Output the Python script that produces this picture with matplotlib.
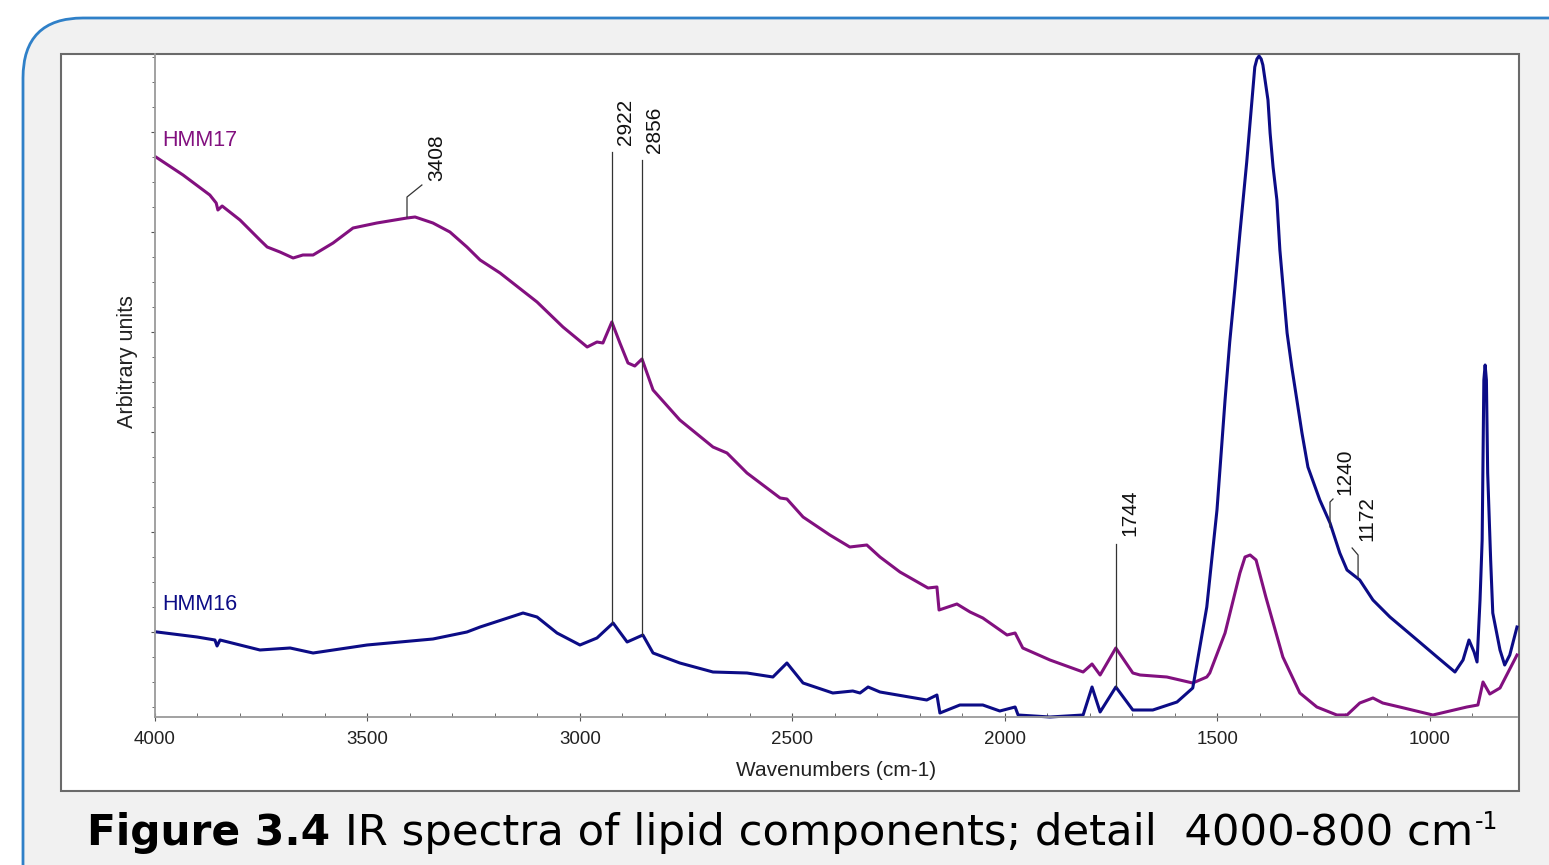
import numpy as np
import matplotlib
matplotlib.use("Agg")
import matplotlib.pyplot as plt
from matplotlib.patches import FancyBboxPatch, Rectangle

# wavenumber (cm-1) / arbitrary intensity
hmm17_wn = [3998, 3934, 3871, 3856, 3852, 3842, 3800, 3753, 3736, 3706, 3675, 3652, 3628,
            3581, 3534, 3478, 3407, 3388, 3346, 3306, 3266, 3235, 3188, 3158, 3101, 3040,
            2983, 2960, 2946, 2925, 2906, 2887, 2871, 2854, 2828, 2765, 2687, 2654, 2607,
            2529, 2513, 2475, 2412, 2365, 2325, 2294, 2247, 2181, 2160, 2155, 2113, 2082,
            2052, 1995, 1976, 1958, 1894, 1816, 1795, 1776, 1739, 1699, 1682, 1619, 1558,
            1525, 1518, 1482, 1447, 1435, 1423, 1409, 1386, 1346, 1306, 1266, 1219, 1195,
            1165, 1134, 1111, 1071, 993, 913, 887, 875, 859, 835, 795]
hmm17_int = [5.60, 5.42, 5.22, 5.14, 5.07, 5.11, 4.97, 4.77, 4.70, 4.65, 4.59, 4.62, 4.62,
             4.74, 4.89, 4.94, 4.99, 5.00, 4.94, 4.85, 4.70, 4.57, 4.44, 4.34, 4.15, 3.90,
             3.70, 3.75, 3.74, 3.95, 3.74, 3.54, 3.51, 3.58, 3.27, 2.97, 2.70, 2.64, 2.44,
             2.19, 2.18, 2.00, 1.82, 1.70, 1.72, 1.60, 1.45, 1.29, 1.30, 1.07, 1.13, 1.05,
             0.99, 0.82, 0.84, 0.69, 0.57, 0.45, 0.53, 0.42, 0.69, 0.44, 0.42, 0.40, 0.34,
             0.40, 0.44, 0.84, 1.44, 1.60, 1.62, 1.57, 1.20, 0.60, 0.24, 0.10, 0.02, 0.02,
             0.14, 0.19, 0.14, 0.10, 0.02, 0.10, 0.12, 0.35, 0.23, 0.29, 0.62]

hmm16_wn = [3995, 3901, 3859, 3854, 3847, 3753, 3682, 3628, 3501, 3346, 3266, 3235, 3134,
            3101, 3054, 3000, 2960, 2922, 2889, 2852, 2828, 2765, 2687, 2607, 2546, 2513,
            2475, 2405, 2358, 2341, 2322, 2294, 2184, 2160, 2153, 2106, 2052, 2012, 1976,
            1969, 1894, 1816, 1795, 1776, 1739, 1699, 1652, 1595, 1558, 1525, 1501, 1482,
            1471, 1459, 1447, 1431, 1423, 1412, 1407, 1402, 1397, 1393, 1381, 1376, 1369,
            1360, 1353, 1336, 1325, 1313, 1301, 1287, 1259, 1235, 1212, 1195, 1165, 1134,
            1094, 1030, 983, 941, 922, 908, 896, 889, 882, 877, 873, 870, 867, 864, 857,
            852, 835, 824, 812, 795]
hmm16_int = [0.85, 0.80, 0.77, 0.71, 0.77, 0.67, 0.69, 0.64, 0.72, 0.78, 0.85, 0.90, 1.04,
             1.00, 0.84, 0.72, 0.79, 0.94, 0.75, 0.82, 0.64, 0.54, 0.45, 0.44, 0.40, 0.54,
             0.34, 0.24, 0.26, 0.24, 0.30, 0.25, 0.17, 0.22, 0.04, 0.12, 0.12, 0.06, 0.10,
             0.02, 0.00, 0.02, 0.30, 0.05, 0.30, 0.07, 0.07, 0.15, 0.29, 1.10, 2.07, 3.17,
             3.75, 4.28, 4.84, 5.55, 5.95, 6.50, 6.58, 6.61, 6.58, 6.52, 6.17, 5.84, 5.50,
             5.17, 4.67, 3.84, 3.50, 3.17, 2.84, 2.50, 2.17, 1.94, 1.64, 1.47, 1.37, 1.17,
             1.00, 0.77, 0.60, 0.45, 0.57, 0.77, 0.65, 0.55, 1.17, 1.77, 3.37, 3.52, 3.37,
             2.44, 1.57, 1.04, 0.67, 0.52, 0.62, 0.90]

peak_labels = ["3408", "2922", "2856", "1744", "1240", "1172"]

purple = "#82107f"
navy = "#0c0c86"
sans = "Liberation Sans"

fig = plt.figure(figsize=(15.49, 8.65), dpi=100)

# background frame in pixel coords
bg = fig.add_axes([0, 0, 1, 1])
bg.set_xlim(0, 1549)
bg.set_ylim(865, 0)
bg.axis("off")
bg.add_patch(FancyBboxPatch((23, 18), 1700, 1000, boxstyle="round,pad=0,rounding_size=60",
                            fc="#f1f1f1", ec="#2f80c8", lw=2))
bg.add_patch(Rectangle((61, 54), 1458, 737, fc="white", ec="#6a6a6a", lw=1.5))

ax = fig.add_axes([155 / 1549, (865 - 717) / 865, (1517 - 155) / 1549, (717 - 54) / 865])
ax.patch.set_alpha(0)
ax.plot(hmm17_wn, hmm17_int, color=purple, lw=2.2, clip_on=False, solid_joinstyle="round")
ax.plot(hmm16_wn, hmm16_int, color=navy, lw=2.2, clip_on=False, solid_joinstyle="round")
ax.set_xlim(4000, 795)
ax.set_ylim(0, 6.63)

for s in ["top", "right"]:
    ax.spines[s].set_visible(False)
for s in ["left", "bottom"]:
    ax.spines[s].set_color("#9a9a9a")
    ax.spines[s].set_linewidth(1.3)

ax.set_xticks([4000, 3500, 3000, 2500, 2000, 1500, 1000])
ax.set_xticks(np.arange(900, 4000, 100), minor=True)
ax.set_yticks(np.arange(0.85, 6.6, 1.0))
ax.set_yticks(np.arange(0.10, 6.63, 0.25), minor=True)
ax.set_yticklabels([])
ax.tick_params(axis="x", which="major", direction="inout", length=6, color="#555",
               labelsize=13.5, pad=7)
ax.tick_params(axis="x", which="minor", direction="in", length=3, color="#555")
ax.tick_params(axis="y", which="major", direction="out", length=3, color="#555")
ax.tick_params(axis="y", which="minor", direction="out", length=2, color="#555")
for t in ax.get_xticklabels():
    t.set_fontfamily(sans)
    t.set_color("#222")

ax.text(0.5, (717 - 771) / 663, "Wavenumbers (cm-1)", transform=ax.transAxes,
        fontfamily=sans, fontsize=15, color="#222", ha="center", va="center")
ax.text((127 - 155) / 1362, (717 - 362) / 663, "Arbitrary units", transform=ax.transAxes,
        rotation=90, fontfamily=sans, fontsize=15.5, color="#222", ha="center", va="center")

ax.text(3982, 5.77, "HMM17", color=purple, fontfamily=sans, fontsize=15.5,
        va="center", ha="left")
ax.text(3982, 1.12, "HMM16", color=navy, fontfamily=sans, fontsize=15.5,
        va="center", ha="left")

lc = "#333333"
lw = 0.9
# 3408
ax.plot([3407, 3407, 3372], [5.00, 5.20, 5.32], color=lc, lw=lw)
# 2922, 2856
ax.plot([2925, 2925], [0.94, 5.65], color=lc, lw=lw)
ax.plot([2854, 2854], [0.82, 5.57], color=lc, lw=lw)
# 1744
ax.plot([1739, 1739], [0.30, 1.73], color=lc, lw=lw)
# 1240
ax.plot([1235, 1235, 1228], [1.90, 2.15, 2.18], color=lc, lw=lw)
# 1172
ax.plot([1169, 1169, 1183], [1.40, 1.62, 1.69], color=lc, lw=lw)

label_x = [3336, 2894, 2824, 1706, 1200, 1148]
label_y = [5.36, 5.72, 5.64, 1.81, 2.22, 1.76]
for lab, lx, ly in zip(peak_labels, label_x, label_y):
    ax.text(lx, ly, lab, rotation=90, ha="center", va="bottom", fontfamily=sans,
            fontsize=15, color="#111")

# caption
base = (865 - 845) / 865
fig.text(87 / 1549, base, "Figure 3.4", fontfamily="DejaVu Sans",
         fontweight="bold", fontsize=30.5, va="baseline", ha="left")
rest = fig.text(345 / 1549, base, "IR spectra of lipid components; detail  4000-800 cm",
                fontfamily="DejaVu Sans", fontsize=31.2, va="baseline", ha="left")
r = fig.canvas.get_renderer()
bb = rest.get_window_extent(renderer=r)
fig.text(bb.x1 / 1549 + 0.001, base + 0.019, "-1", fontfamily="DejaVu Sans",
         fontsize=17, va="baseline", ha="left")

fig.savefig("out.png", dpi=100)
